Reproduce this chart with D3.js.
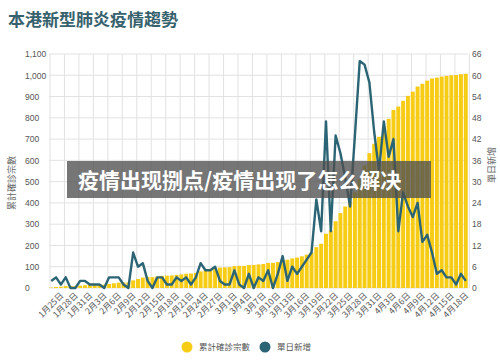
<!DOCTYPE html>
<html>
<head>
<meta charset="utf-8">
<script src="https://cdn.jsdelivr.net/npm/d3@7"></script>
<style>
  body { margin: 0; background: #fff; }
  svg { display: block; font-family: 'Noto Sans CJK TC', 'Noto Sans', sans-serif; }
</style>
</head>
<body>
<div id="chart"></div>
<script>
// dates Jan 23 -> Apr 18 (2020), one entry per day
let startDate = new Date(2020, 0, 23)
let dayCount = 87

let dailyNew = [
  2, 3, 1, 3, 0, 0, 2, 2, 1, 1, 1, 0, 3, 3, 3, 1, 0, 10, 6, 7,
  2, 0, 3, 3, 1, 1, 3, 2, 3, 1, 3, 7, 5, 5, 6, 2, 1, 1, 5, 1,
  0, 4, 0, 3, 2, 5, 0, 4, 9, 2, 6, 4, 6, 8, 10, 25, 16, 47, 16, 43,
  38, 31, 23, 43, 64, 63, 58, 44, 33, 47, 37, 42, 16, 27, 23, 20, 24, 13, 15, 10,
  4, 5, 3, 3, 1, 4, 2
]

let cumulative = [
  2, 5, 6, 9, 9, 9, 11, 13, 14, 15, 16, 16, 19, 22, 25, 26, 26, 36, 42, 49,
  51, 51, 54, 57, 58, 59, 62, 64, 67, 68, 71, 78, 83, 88, 94, 96, 97, 98, 103, 104,
  104, 108, 108, 111, 113, 118, 118, 122, 131, 133, 139, 143, 149, 157, 167, 192, 208, 255, 271, 314,
  352, 383, 406, 449, 513, 576, 634, 678, 711, 758, 795, 837, 853, 880, 903, 923, 947, 960, 975, 985,
  989, 994, 997, 1000, 1001, 1005, 1007
]

let leftTicks = [0, 100, 200, 300, 400, 500, 600, 700, 800, 900, 1000, 1100]
let rightTicks = [0, 6, 12, 18, 24, 30, 36, 42, 48, 54, 60, 66]

let title = '本港新型肺炎疫情趨勢'
let leftLabel = '累計確診宗數'
let rightLabel = '單日新增'
let legendNames = ['累計確診宗數', '單日新增']
let overlayText = '疫情出现捌点/疫情出现了怎么解决'

let barColor = '#f7cc15'
let lineColor = '#2b6474'

let width = 500
let height = 360
let margin = { top: 54, left: 49, right: 32, bottom: 72 }

let svg = d3
  .select('#chart')
  .append('svg')
  .attr('width', width)
  .attr('height', height)

let days = d3.range(dayCount).map(i => d3.timeDay.offset(startDate, i))
let datapoints = days.map((d, i) => ({
  date: d,
  cum: cumulative[i],
  daily: dailyNew[i]
}))

let xPositionScale = d3
  .scaleBand()
  .domain(days)
  .range([margin.left, width - margin.right])
  .paddingInner(0.18)
  .paddingOuter(0.05)

let yLeft = d3
  .scaleLinear()
  .domain([0, 1100])
  .range([height - margin.bottom, margin.top])

let yRight = d3
  .scaleLinear()
  .domain([0, 66])
  .range([height - margin.bottom, margin.top])

let step = xPositionScale.step()
let center = d => xPositionScale(d) + xPositionScale.bandwidth() / 2

// title
svg
  .append('text')
  .attr('x', 8)
  .attr('y', 26)
  .attr('font-size', 17)
  .attr('font-weight', 'bold')
  .attr('fill', '#36616d')
  .text(title)

// grid
let grid = svg.append('g').attr('class', 'grid')
grid
  .selectAll('.hgrid')
  .data(leftTicks)
  .enter()
  .append('line')
  .attr('x1', margin.left)
  .attr('x2', width - margin.right)
  .attr('y1', d => yLeft(d))
  .attr('y2', d => yLeft(d))
  .attr('stroke', '#e2e2e2')
  .attr('stroke-width', 1)

grid
  .selectAll('.vgrid')
  .data(days.filter((d, i) => i % 3 === 0).concat([d3.timeDay.offset(startDate, dayCount)]))
  .enter()
  .append('line')
  .attr('x1', (d, i) => margin.left + 1 + i * 3 * step)
  .attr('x2', (d, i) => margin.left + 1 + i * 3 * step)
  .attr('y1', margin.top)
  .attr('y2', height - margin.bottom)
  .attr('stroke', '#e2e2e2')
  .attr('stroke-width', 1)

// bars
svg
  .selectAll('.bar')
  .data(datapoints)
  .enter()
  .append('rect')
  .attr('class', 'bar')
  .attr('x', d => xPositionScale(d.date))
  .attr('width', xPositionScale.bandwidth())
  .attr('y', d => yLeft(d.cum))
  .attr('height', d => yLeft(0) - yLeft(d.cum))
  .attr('fill', barColor)

// daily line
let line = d3
  .line()
  .x(d => center(d.date))
  .y(d => yRight(d.daily))

svg
  .append('path')
  .datum(datapoints)
  .attr('d', line)
  .attr('fill', 'none')
  .attr('stroke', lineColor)
  .attr('stroke-width', 2.4)
  .attr('stroke-linejoin', 'round')

// left axis
let leftAxis = d3.axisLeft(yLeft).tickValues(leftTicks).tickSize(0).tickFormat(d3.format(','))
svg
  .append('g')
  .attr('class', 'axis y-axis')
  .attr('transform', 'translate(25,0)')
  .call(leftAxis)
  .call(g => g.select('.domain').remove())
  .selectAll('text')
  .attr('x', 0)
  .attr('text-anchor', 'start')
  .attr('font-size', 8.5)
  .attr('fill', '#555')

let rightAxis = d3.axisRight(yRight).tickValues(rightTicks).tickSize(0)
svg
  .append('g')
  .attr('class', 'axis y-axis-right')
  .attr('transform', 'translate(472,0)')
  .call(rightAxis)
  .call(g => g.select('.domain').remove())
  .selectAll('text')
  .attr('x', 0)
  .attr('text-anchor', 'start')
  .attr('font-size', 8.5)
  .attr('fill', '#555')

// axis titles
svg
  .append('text')
  .attr('transform', 'translate(15,183) rotate(-90)')
  .attr('text-anchor', 'middle')
  .attr('font-size', 9)
  .attr('fill', '#666')
  .text(leftLabel)

svg
  .append('text')
  .attr('transform', 'translate(495,165) rotate(-90)')
  .attr('text-anchor', 'middle')
  .attr('font-size', 9)
  .attr('fill', '#666')
  .text(rightLabel)

// x labels every 3 days starting Jan 25
let xFormat = d3.timeFormat('%-m月%-d日')
let labelDays = days.filter((d, i) => i % 3 === 2)
svg
  .selectAll('.x-label')
  .data(labelDays)
  .enter()
  .append('text')
  .attr('class', 'x-label')
  .attr('transform', d => 'translate(' + (center(d) + 1) + ',' + (height - margin.bottom + 6) + ') rotate(-45)')
  .attr('text-anchor', 'end')
  .attr('dy', '0.35em')
  .attr('font-size', 8.5)
  .attr('fill', '#555')
  .text(d => xFormat(d))

// legend
let legend = svg.append('g').attr('class', 'legend')
let legendItems = [
  { name: legendNames[0], color: barColor, x: 187 },
  { name: legendNames[1], color: lineColor, x: 265 }
]
legend
  .selectAll('circle')
  .data(legendItems)
  .enter()
  .append('circle')
  .attr('cx', d => d.x)
  .attr('cy', 347)
  .attr('r', 5.5)
  .attr('fill', d => d.color)
legend
  .selectAll('text')
  .data(legendItems)
  .enter()
  .append('text')
  .attr('x', d => d.x + 12)
  .attr('y', 350)
  .attr('font-size', 8.5)
  .attr('fill', '#555')
  .text(d => d.name)

// overlay banner
svg
  .append('rect')
  .attr('x', 67)
  .attr('y', 161)
  .attr('width', 364)
  .attr('height', 37)
  .attr('fill', 'rgba(80,80,80,0.78)')

svg
  .append('text')
  .attr('x', 78)
  .attr('y', 188)
  .attr('font-size', 21)
  .attr('font-weight', 'bold')
  .attr('font-family', "'Noto Sans CJK SC', sans-serif")
  .attr('fill', '#fff')
  .text(overlayText)
</script>
</body>
</html>
